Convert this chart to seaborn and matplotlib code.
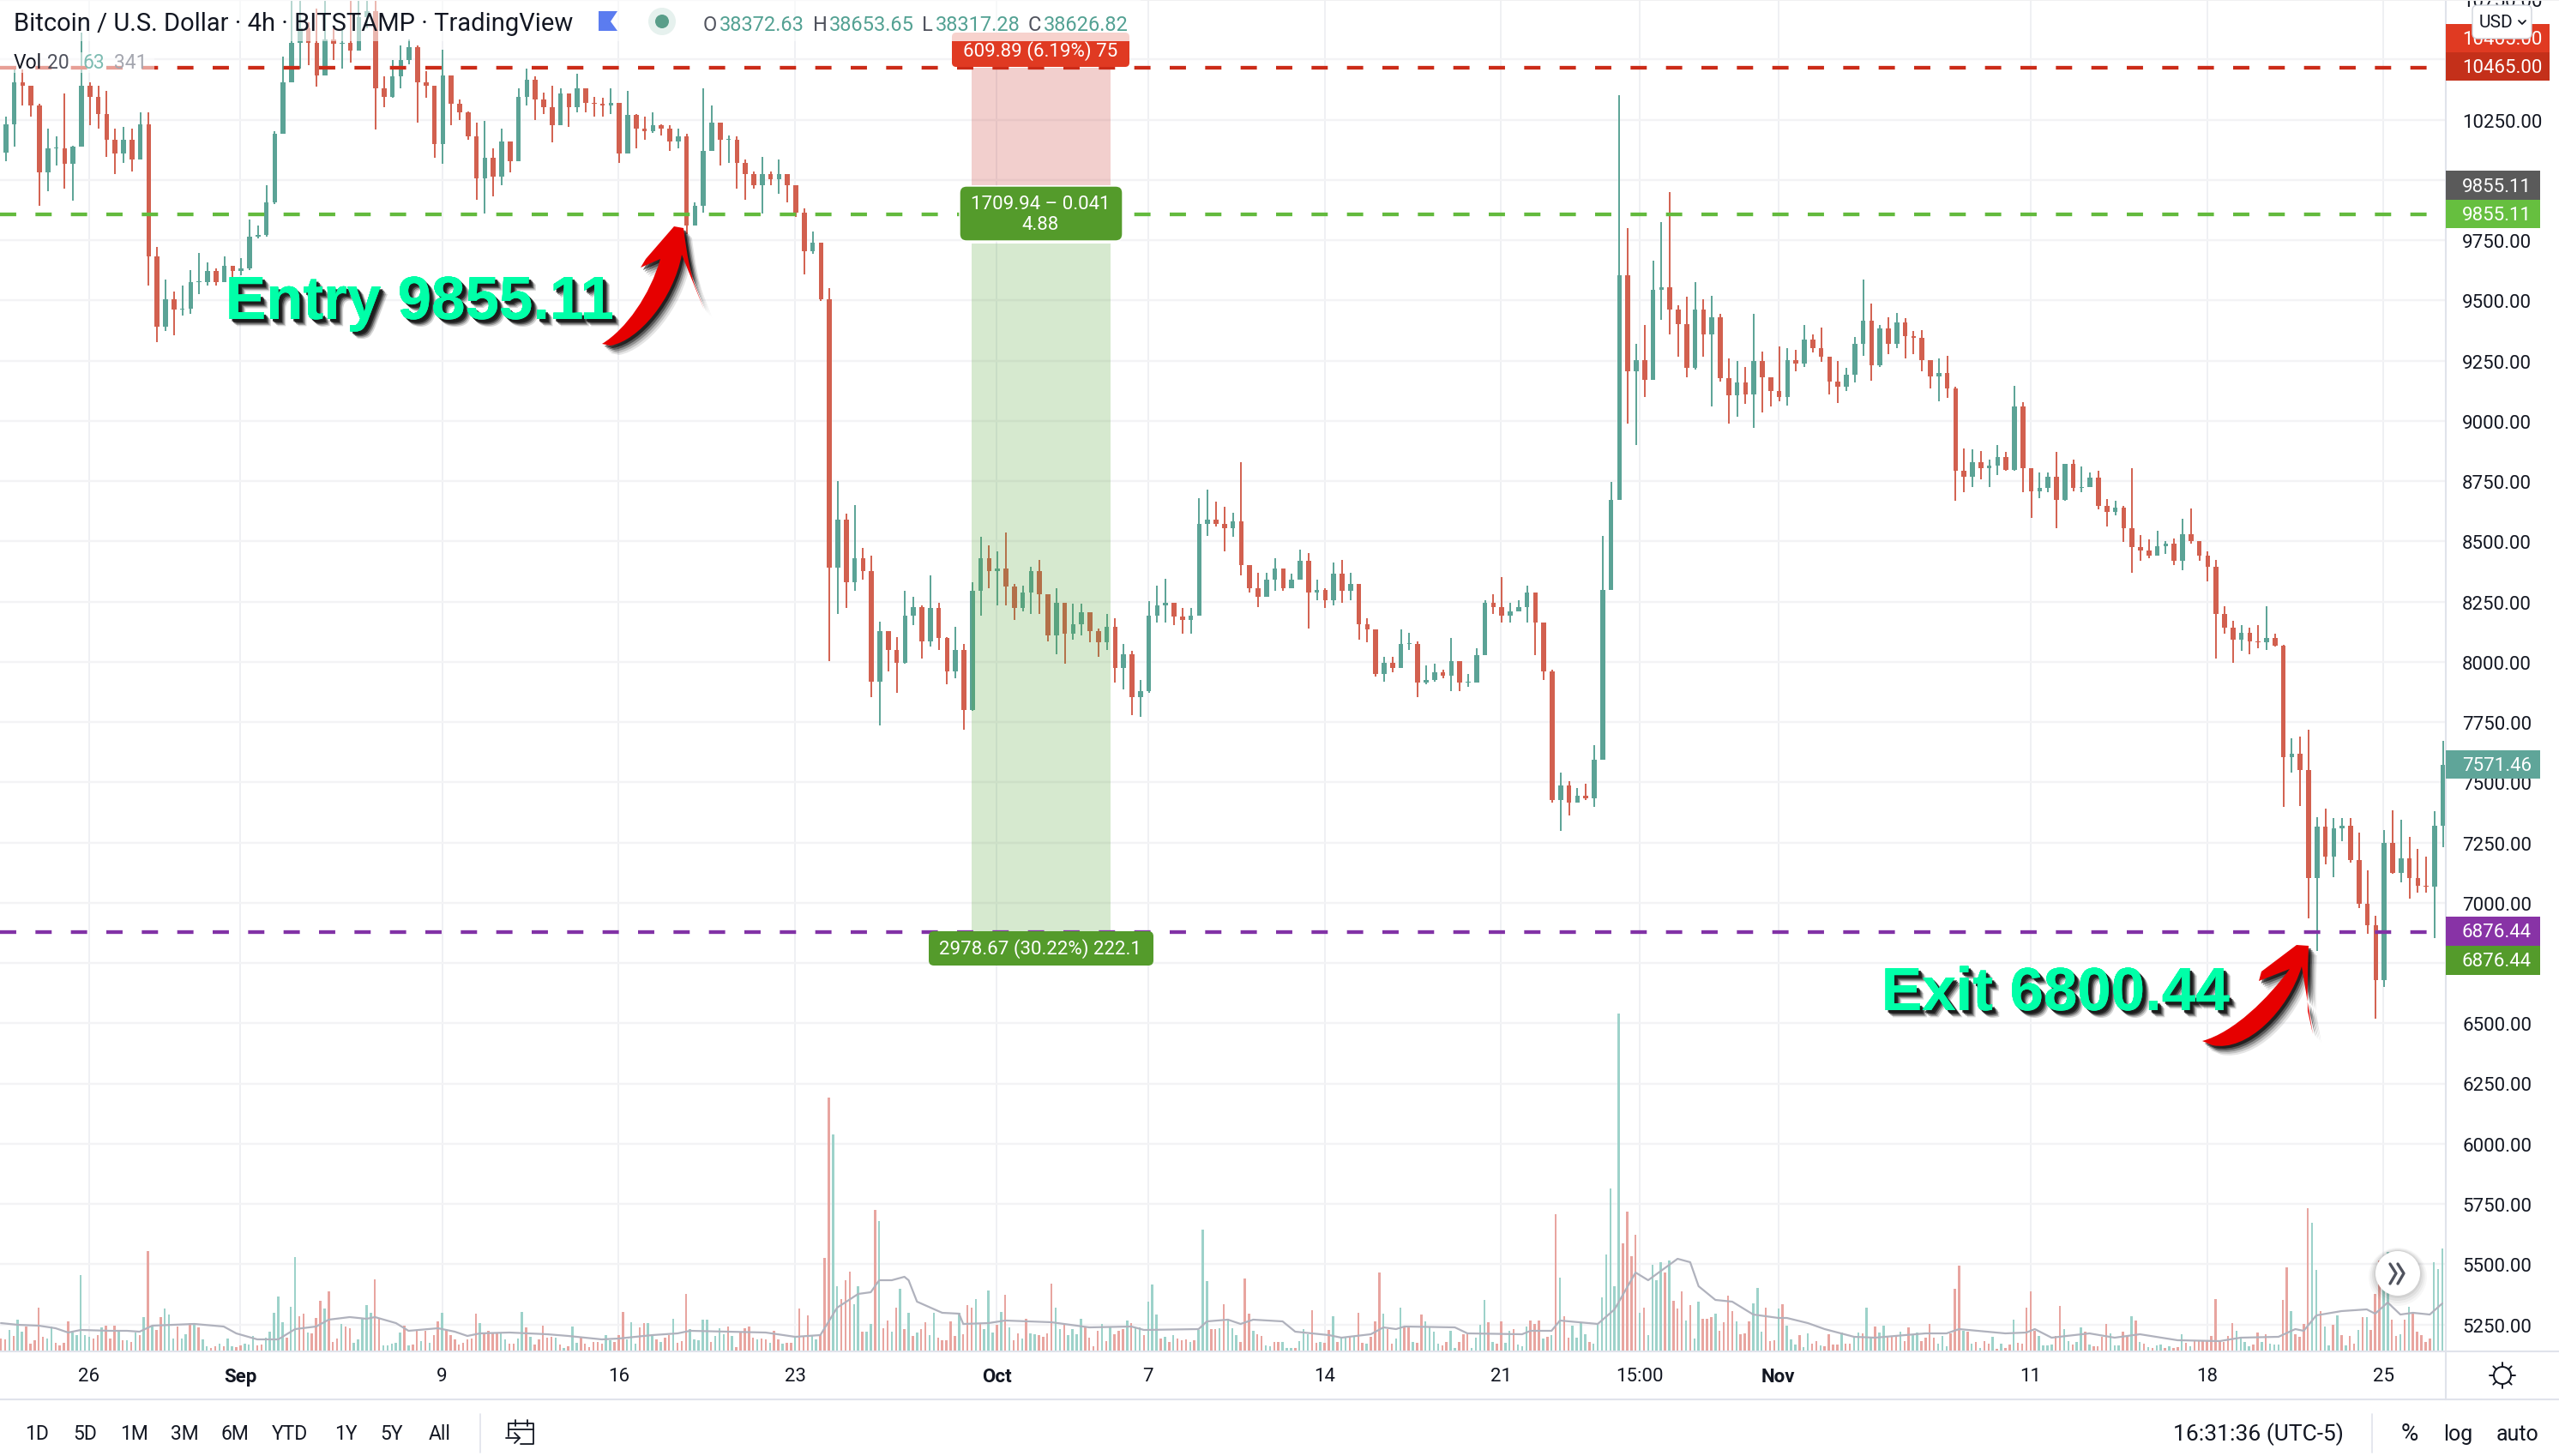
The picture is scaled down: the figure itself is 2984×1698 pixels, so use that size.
import numpy as np
import pandas as pd
import seaborn as sns
import matplotlib
matplotlib.use("Agg")
import matplotlib.pyplot as plt
import matplotlib.patheffects as pe
from matplotlib.patches import FancyBboxPatch, Rectangle, Circle, Polygon, PathPatch
from matplotlib.path import Path

# ---- candles, one entry every 8 hours, prices in USD ----
first_open = 10060
close = [10113,10232,10404,10392,10309,10030,10131,10131,10066,10137,10392,10345,10274,10167,10108,10167,10084,10232,9681,9390,
 9503,9461,9467,9574,9574,9621,9574,9645,9621,9633,9764,9770,9906,10191,10404,10570,10629,10570,10434,10582,
 10564,10570,10535,10677,10700,10380,10345,10428,10499,10552,10404,10392,10149,10434,10315,10280,10179,10007,10090,10013,
 10161,10078,10345,10416,10333,10303,10226,10357,10303,10380,10321,10315,10307,10321,10108,10268,10214,10202,10226,10214,
 10161,10179,9811,9894,10119,10238,10167,10167,10072,10025,9977,10025,10001,10025,9977,9864,9704,9740,9503,8389,
 8589,8329,8429,8376,7919,8127,8050,7996,8192,8228,8085,8222,8097,7961,8050,7801,8293,8429,8376,8388,
 8311,8222,8287,8376,8281,8109,8246,8115,8157,8204,8127,8080,8145,7973,8032,7854,7878,8192,8234,8246,
 8186,8174,8192,8572,8589,8572,8554,8584,8400,8305,8269,8340,8388,8305,8340,8418,8287,8299,8257,8364,
 8293,8323,8157,8133,7949,7996,7973,8074,8074,7913,7925,7955,7943,8002,7913,7913,8026,8246,8228,8192,
 8210,8228,8287,8163,7961,7427,7486,7415,7445,7433,7593,8299,8670,9603,9206,9253,9170,9544,9556,9461,
 9402,9218,9461,9360,9431,9176,9106,9159,9110,9247,9180,9123,9099,9253,9236,9336,9303,9265,9164,9140,
 9192,9320,9414,9230,9384,9319,9408,9351,9345,9253,9185,9200,9135,8791,8768,8829,8803,8813,8851,8797,
 9058,8803,8708,8720,8768,8673,8821,8720,8726,8765,8647,8623,8639,8554,8477,8462,8442,8481,8489,8420,
 8531,8501,8442,8394,8198,8141,8092,8121,8086,8080,8098,8068,7605,7617,7551,7101,7315,7190,7308,7320,
 7178,6994,6905,6680,7249,7125,7185,7101,7071,7065,7320,7571]
high = [10262,10262,10463,10457,10380,10315,10214,10179,10357,10143,10612,10404,10392,10368,10214,10220,10214,10280,10280,9722,
 9586,9538,9562,9627,9698,9657,9633,9681,9645,9675,9835,9811,9977,10202,10511,10760,10760,10653,10712,10760,
 10629,10629,10760,10780,10790,10770,10428,10499,10558,10582,10558,10451,10392,10540,10357,10333,10285,10238,10244,10131,
 10214,10143,10380,10463,10428,10363,10392,10380,10345,10440,10368,10345,10339,10380,10280,10368,10274,10262,10280,10232,
 10226,10214,10191,9906,10380,10309,10238,10185,10179,10084,10036,10096,10036,10084,10013,9953,9882,9787,9740,9550,
 8750,8613,8649,8471,8441,8168,8127,8103,8293,8269,8234,8358,8246,8103,8145,8074,8329,8518,8483,8459,
 8536,8323,8317,8394,8423,8257,8305,8246,8240,8240,8163,8139,8198,8180,8074,8044,7925,8251,8317,8346,
 8228,8222,8222,8678,8714,8666,8643,8619,8827,8394,8370,8370,8429,8388,8364,8465,8450,8340,8305,8411,
 8423,8370,8323,8180,8133,8020,8020,8133,8121,8085,7985,7991,7967,8097,7985,7949,8056,8257,8281,8352,
 8246,8257,8317,8234,8050,7967,7540,7504,7475,7492,7653,8524,8745,10353,9799,9319,9396,9663,9823,9951,
 9479,9514,9574,9503,9520,9443,9259,9247,9224,9443,9289,9164,9307,9301,9295,9396,9360,9386,9265,9247,
 9218,9348,9586,9485,9396,9431,9449,9425,9374,9378,9236,9259,9270,9141,8886,8880,8874,8839,8901,8872,
 9145,9076,8797,8786,8786,8872,8821,8839,8809,8786,8791,8675,8667,8647,8803,8525,8507,8542,8501,8513,
 8592,8635,8501,8459,8424,8232,8169,8151,8141,8151,8232,8118,8070,7682,7688,7717,7356,7389,7350,7352,
 7350,7290,7136,6947,7302,7382,7346,7273,7225,7190,7380,7670]
low = [10054,10078,10137,10309,10262,9894,9953,10060,9965,9912,10137,10226,10214,10096,10025,10072,10036,10119,9562,9325,
 9372,9354,9437,9443,9526,9562,9562,9598,9598,9604,9627,9758,9764,9900,10285,10404,10463,10475,10386,10463,
 10499,10463,10487,10552,10629,10208,10303,10339,10380,10481,10238,10339,10090,10066,10226,10250,10167,9918,9859,9930,
 9977,10030,10167,10309,10250,10274,10155,10238,10220,10280,10280,10262,10262,10274,10072,10119,10131,10167,10196,10185,
 10119,10131,9776,9811,9864,10155,10060,10072,9965,9918,9965,9859,9977,9942,9906,9847,9609,9692,9497,8001,
 8198,8222,8293,8340,7854,7736,7961,7872,7991,8151,8014,8062,8050,7908,7931,7718,7795,8192,8305,8234,
 8234,8174,8210,8198,8198,8085,8032,7991,8091,8109,8080,8020,8050,7913,7884,7777,7771,7872,8163,8163,
 8151,8115,8115,8192,8524,8560,8459,8518,8358,8287,8228,8293,8293,8293,8305,8364,8139,8257,8222,8234,
 8246,8257,8091,8080,7937,7919,7955,8020,8050,7854,7908,7919,7931,7878,7878,7896,7943,8032,8198,8163,
 8163,8210,8163,8026,7925,7415,7297,7362,7427,7427,7397,7593,8299,8670,8990,8900,9099,9218,9420,9360,
 9265,9182,9212,9265,9058,9164,8987,9016,9070,8969,9034,9058,9081,9064,9206,9224,9283,9244,9111,9073,
 9123,9159,9271,9167,9224,9277,9303,9259,9277,9206,9135,9081,9094,8667,8703,8726,8756,8726,8774,8791,
 8791,8703,8596,8679,8703,8554,8667,8708,8703,8726,8631,8560,8608,8497,8370,8420,8430,8448,8448,8402,
 8379,8489,8418,8335,8015,8115,7997,8044,8032,8056,8050,8062,7397,7540,7403,6935,6800,7160,7107,7255,
 7166,6976,6870,6520,6650,7119,7083,7018,7042,7042,6852,7231]

# ---- volume, one entry every 4 hours; positive = up bar, negative = down bar ----
volume = [-15,-14,25,-18,37,23,-29,-9,-13,-51,-17,15,29,-10,-7,-10,-35,22,19,89,19,17,-15,-19,28,-30,-15,-30,24,-13,13,-11,22,-19,40,-117,
 29,-25,-40,50,43,15,-29,15,20,-33,33,-28,14,6,-4,-6,9,-6,15,6,-5,-7,9,8,18,-7,-8,16,23,45,64,34,-16,52,110,-41,-44,22,-21,-39,-59,50,-70,
 -11,-15,32,-29,-27,10,14,39,54,45,-84,-38,7,7,9,10,22,-30,7,-8,-25,12,-24,10,-19,-35,45,-25,-19,-14,-8,-10,-14,-15,-44,33,-21,-24,-21,-21,
 21,14,-9,-9,15,46,-28,17,-8,-14,-30,-16,-17,16,-8,4,-6,29,10,-16,-9,-5,-11,-11,-9,19,13,-11,-19,-46,14,34,9,-28,-33,33,19,-14,11,-16,-19,
 38,-10,-12,-67,26,14,13,37,37,-11,18,27,20,-29,18,-5,-23,-27,-29,-16,14,-15,-14,10,-24,-14,9,-10,-10,17,-50,-17,-42,19,14,-19,-109,-296,253,
 76,-61,-83,-93,55,
 76,-23,23,32,-165,152,-27,-36,23,-51,73,-26,45,-18,22,-26,-34,19,45,-16,-13,-13,-35,-18,45,-20,-54,-51,61,-33,26,71,22,-31,46,-66,28,-13,-21,15,
 -38,21,20,-19,-17,-21,-79,51,26,-31,19,26,20,38,-29,-16,-6,-24,32,-12,28,-20,-24,-26,36,-33,28,28,-19,58,78,43,-15,17,-11,19,-15,-13,-14,11,-13,25,
 142,82,-26,-26,27,-55,38,27,19,-11,-85,-44,24,-20,-18,7,6,-11,-11,11,4,4,-4,12,26,20,-48,-10,11,-10,-25,41,-11,15,16,-17,17,-45,-10,9,-17,-35,-92,
 44,-26,-9,15,51,-28,-28,11,-10,-43,35,29,23,9,-7,-11,24,4,-11,-20,-21,4,16,31,60,-34,11,-9,-35,10,24,-26,8,6,29,-36,-32,-36,15,-17,19,-160,86,-41,
 -16,30,16,34,20,-11,9,33,63,113,190,76,394,-126,-163,-111,-136,45,-51,19,101,83,104,-92,106,-59,-50,-70,36,-54,15,58,-38,-38,-40,
 44,-24,-34,-65,-47,35,-20,-21,-35,56,74,23,-51,-12,-13,50,-55,30,14,8,-19,5,21,-9,-12,7,-6,-20,-8,-8,22,-9,-9,16,22,-21,51,16,-29,22,30,-17,-17,-18,
 23,-12,-28,19,22,-12,-16,-32,-16,9,18,6,-21,-73,-100,24,-23,9,-11,4,-12,-9,17,-3,9,-4,-8,37,-10,-9,-51,-70,-24,18,7,7,8,-18,-53,26,12,-8,11,28,-23,
 8,-6,-6,-17,-32,21,7,7,-23,-19,41,-36,11,-9,5,-4,7,8,-4,6,-4,-5,20,-10,6,-12,-12,-12,-12,-18,-61,-13,-11,-18,-33,24,17,11,6,-8,-22,11,-20,9,8,8,-60,
 -98,47,-20,-17,-32,-167,150,95,-47,29,7,-31,42,-19,7,-18,-9,25,-40,40,-25,-67,-106,110,116,-37,-18,20,-37,52,-44,-23,-19,-11,-15,104,96,120]

# ---- 20-period moving average of volume: bar number and value ----
ma_bar = [0,4,9,13,16,19,26,30,33,36,46,53,56,61,66,70,75,78,83,87,89,94,97,104,108,111,114,121,130,135,143,147,155,161,164,173,182,189,195,199,204,
 207,209,212,215,216,218,224,228,229,235,239,250,259,269,272,285,287,292,295,298,305,308,316,319,326,329,332,334,346,349,362,364,369,371,380,384,389,392,399,402,404,408,
 412,417,423,425,430,434,441,446,458,463,466,477,482,484,488,497,503,509,518,528,533,542,546,548,551,557,563,565,568,571,574,578,581]
ma_value = [33,31,30,27,22,25,24,24,23,30,32,29,21,14,14,26,29,37,40,38,40,33,24,27,23,18,21,22,20,18,14,15,19,21,24,23,22,17,19,51,67,
 69,83,83,87,83,58,45,44,32,33,36,34,28,29,25,26,35,37,32,37,35,23,19,16,20,28,26,29,28,21,20,24,24,36,32,49,92,83,108,104,76,60,
 58,43,39,39,33,26,17,16,21,21,26,21,22,26,16,21,16,20,13,12,16,17,26,24,42,47,49,44,57,43,45,43,56]

# ---- trade levels and axis labels ----
stop_price = 10465.00
entry_price = 9855.11
exit_price = 6876.44
last_price = 7571.46
trade_days = [35.0, 40.5]
price_ticks = [10750,10500,10250,10000,9750,9500,9250,9000,8750,8500,8250,8000,7750,7500,7250,7000,6750,6500,6250,6000,5750,5500,5250]
hidden_price_labels = [10500,10000,6750]   # covered by the level tags in the reference
time_tick_days = [0,6,14,21,28,36,42,49,56,61.5,67,77,84,91]
time_tick_labels = ['26','Sep','9','16','23','Oct','7','14','21','15:00','Nov','11','18','25']
bold_ticks = ['Sep','Oct','Nov']
ranges = ['1D','5D','1M','3M','6M','YTD','1Y','5Y','All']
range_x = [43,99,157,215,274,338,403,457,513]

UP, DOWN = '#5ba396', '#d2604f'
VUP, VDOWN = '#9dd2ca', '#e8a5a0'
INK = '#131722'

sns.set_theme(style='white')
plt.rcParams['font.family'] = ['Roboto', 'DejaVu Sans']

W, H = 2984, 1699
fig = plt.figure(figsize=(W/100, H/100), dpi=100, facecolor='white')
PR, PB = 2852, 1577
ax = fig.add_axes([0, (H-PB)/H, PR/W, PB/H])
ax.set_facecolor('white')

XLIM = (-104/29.4, (PR-104)/29.4)
opens = [first_open] + close[:-1]
cdf = pd.DataFrame({'day': -3.64 + np.arange(len(close))/3, 'open': opens, 'high': high, 'low': low, 'close': close})
up = cdf['close'] >= cdf['open']
ccol = np.where(up, UP, DOWN)
ax.vlines(cdf['day'], cdf['low'], cdf['high'], colors=ccol, lw=1.4, zorder=3)
ax.bar(cdf['day'], (cdf['close']-cdf['open']).abs().clip(lower=4), bottom=cdf[['open','close']].min(axis=1),
       width=0.19, color=ccol, linewidth=0, zorder=3)

# trade zones
ax.fill_between(trade_days, 9976, stop_price, color=(201/255,55/255,47/255), alpha=0.24, lw=0, zorder=5)
ax.fill_between(trade_days, exit_price, 9737, color=(84/255,163/255,55/255), alpha=0.24, lw=0, zorder=5)

for p, c in [(stop_price,'#cb2b18'), (entry_price,'#63ba3d'), (exit_price,'#8232a6')]:
    ax.hlines(p, XLIM[0], XLIM[1], colors=c, lw=3.1, linestyles=[(0,(4.4,5.2))], zorder=6)

ax.set_xlim(*XLIM)
ax.set_ylim(10750-PB/0.281, 10750)
ax.yaxis.tick_right()
ax.set_yticks(price_ticks)
ax.set_yticklabels(['' if t in hidden_price_labels else f'{t:.2f}' for t in price_ticks], fontsize=16, color=INK)
ax.set_xticks(time_tick_days)
ax.set_xticklabels(time_tick_labels, fontsize=16, color=INK)
for t in ax.get_xticklabels():
    if t.get_text() in bold_ticks:
        t.set_fontweight('bold')
ax.tick_params(axis='y', length=0, pad=13.7)
ax.tick_params(axis='x', length=0, pad=13)
ax.grid(True, axis='y', color='#f3f3f5', lw=1.7, zorder=0)
ax.grid(True, axis='x', color='#eceef1', lw=1.2, zorder=0)
ax.set_axisbelow(True)
for s in ax.spines.values():
    s.set_visible(False)

# volume pane, same time scale
vax = fig.add_axes(ax.get_position(), zorder=2)
vax.patch.set_alpha(0)
vdf = pd.DataFrame({'day': -3.5 + np.arange(len(volume))/6, 'vol': np.abs(volume),
                    'dir': ['up' if v > 0 else 'down' for v in volume]})
sns.barplot(data=vdf, x='day', y='vol', hue='dir', palette={'up': VUP, 'down': VDOWN}, hue_order=['up','down'],
            native_scale=True, dodge=False, width=0.5, saturation=1, errorbar=None, legend=False, ax=vax, linewidth=0)
mdf = pd.DataFrame({'day': -3.5 + np.array(ma_bar)/6, 'ma': ma_value})
sns.lineplot(data=mdf, x='day', y='ma', color='#b0b2bd', lw=1.6, estimator=None, sort=False, ax=vax)
vax.set_xlim(*XLIM)
vax.set_ylim(0, PB)
vax.axis('off')

# ---- overlay in pixel space ----
ov = fig.add_axes([0,0,1,1], zorder=5)
ov.set_xlim(0, W); ov.set_ylim(H, 0); ov.axis('off'); ov.patch.set_alpha(0)

def box(x0, y0, x1, y1, c, r=6, z=5, **kw):
    ov.add_patch(FancyBboxPatch((x0+r, y0+r), x1-x0-2*r, y1-y0-2*r, boxstyle=f'round,pad={r},rounding_size={r}',
                                fc=c, lw=kw.pop('lw',0), zorder=z, **kw))
def txt(x, y, s, c=INK, fs=16, ha='center', z=8, **kw):
    return ov.text(x, y, s, color=c, fontsize=fs, ha=ha, va='center', zorder=z, **kw)

# legend veils
ov.add_patch(Rectangle((0,0), 1330, 49, fc='white', alpha=0.55, lw=0, zorder=4))
ov.add_patch(Rectangle((0,62), 180, 24, fc='white', alpha=0.55, lw=0, zorder=4))

# position labels
box(1110, 39, 1317, 79, '#e03a22', r=5, z=3)
ov.add_patch(Rectangle((1110,39), 207, 10, fc='white', alpha=0.5, lw=0, zorder=4))
txt(1213, 60, '609.89 (6.19%) 75', 'white', 16)
box(1119, 218, 1309, 282, '#549b2b', r=8, ec='white', lw=1)
txt(1213, 238, '1709.94 \u2013 0.041', 'white', 16)
txt(1213, 263, '4.88', 'white', 16)
box(1083, 1087, 1345, 1127, '#549b2b', r=6)
txt(1213, 1107, '2978.67 (30.22%) 222.1', 'white', 16)

# price scale tags
for (y0,y1,x1,c,s) in [(29,62,2973,'#e03a22',f'{stop_price:.2f}'),(62,95,2973,'#c4301a',f'{stop_price:.2f}'),
                       (200,234,2962,'#5a5a5a',f'{entry_price:.2f}'),(234,267,2962,'#66bf3f',f'{entry_price:.2f}'),
                       (876,909,2962,'#5fa599',f'{last_price:.2f}'),(1070,1104,2962,'#8833a6',f'{exit_price:.2f}'),
                       (1104,1138,2962,'#549b2b',f'{exit_price:.2f}')]:
    ov.add_patch(Rectangle((2852,y0), x1-2852, y1-y0, fc=c, lw=0, zorder=5))
    txt(2871, (y0+y1)/2+1, s, 'white', 16, ha='left')

# USD button
box(2883, 7, 2952, 46, 'white', r=6, z=9, ec='#d1d4dc', lw=1)
ov.plot([2937,2941,2945],[25,29,25], color=INK, lw=1.3, zorder=10)
txt(2891, 27, 'USD', fs=15, ha='left', z=10)

# frame
ov.plot([2852,2852],[0,1633], color='#e0e3eb', lw=1.5, zorder=3)
ov.plot([0,W],[1577,1577], color='#e0e3eb', lw=1.5, zorder=3)
ov.plot([0,W],[1633,1633], color='#e0e3eb', lw=1.5, zorder=3)
ov.plot([0,W],[1,1], color='#f0f0f2', lw=1.5, zorder=3)

# header legend
txt(16, 28, 'Bitcoin / U.S. Dollar \u00b7 4h \u00b7 BITSTAMP \u00b7 TradingView', fs=21, ha='left')
ov.add_patch(Polygon([(698,14),(720,14),(712,26),(720,37),(698,37)], fc='#5b7cf0', lw=0, zorder=8))
ov.add_patch(Circle((772,26), 16, fc='#e6f1ee', lw=0, zorder=8))
ov.add_patch(Circle((772,26), 8, fc='#5a9e8a', lw=0, zorder=9))
for x, s in [(820,'O'),(948,'H'),(1075,'L'),(1199,'C')]:
    txt(x, 29, s, '#50535e', 17, ha='left')
for x, s in [(839,'38372.63'),(967,'38653.65'),(1091,'38317.28'),(1217,'38626.82')]:
    txt(x, 29, s, '#53a193', 17, ha='left')
txt(16, 73, 'Vol', fs=16.5, ha='left')
txt(55, 73, '20', '#50535e', 16.5, ha='left')
txt(96, 73, '63', '#7dbcb2', 16.5, ha='left')
txt(133, 73, '341', '#a5a7b0', 16.5, ha='left')

# bottom bar
for x, s in zip(range_x, ranges):
    txt(x, 1673, s, fs=16.5)
ov.plot([560,560],[1650,1695], color='#e0e3eb', lw=1.2)
ov.plot([2766,2766],[1650,1695], color='#e0e3eb', lw=1.2)
txt(2534, 1673, '16:31:36 (UTC-5)', fs=19, ha='left')
txt(2810, 1673, '%', fs=20)
txt(2866, 1673, 'log', fs=18)
txt(2935, 1673, 'auto', fs=18)
# calendar icon
ov.plot([593,593],[1661,1676], color=INK, lw=1.3)
ov.plot([593,622,622,607],[1661,1661,1685,1685], color=INK, lw=1.3)
ov.plot([593,622],[1668,1668], color=INK, lw=1.3)
ov.plot([601,601],[1657,1664], color=INK, lw=1.3)
ov.plot([615,615],[1657,1664], color=INK, lw=1.3)
ov.plot([590,606],[1678,1678], color=INK, lw=1.3)
ov.plot([600,606,600],[1672,1678,1684], color=INK, lw=1.3)
# gear icon
ov.add_patch(Circle((2918,1605), 10, fc='none', ec=INK, lw=1.4, zorder=8))
for a in np.arange(0, 2*np.pi, np.pi/4):
    ov.plot([2918+10*np.cos(a), 2918+15*np.cos(a)], [1605+10*np.sin(a), 1605+15*np.sin(a)], color=INK, lw=1.4, zorder=8)
# scroll button
for dx, al in zip(range(8,0,-2), [.03,.04,.05,.06]):
    ov.add_patch(Circle((2796,1486+dx/2), 26+dx, fc='black', alpha=al, lw=0, zorder=6))
ov.add_patch(Circle((2796,1486), 26, fc='white', lw=0, zorder=7))
for dx in (0, 9):
    ov.plot([2787+dx,2794+dx,2787+dx],[1475,1486,1498], color='#50535e', lw=2.4, zorder=8)

# big annotations
def shadow_text(x, y, s):
    t = txt(x, y, s, '#00ffa8', 51, ha='left', z=12, family='Liberation Sans', fontweight='bold')
    t.set_path_effects([pe.withSimplePatchShadow(offset=(o, -o), shadow_rgbFace='k', alpha=a)
                        for o, a in [(6,.18),(5,.3),(4,.5),(3,.8),(2,.9)]] + [pe.Normal()])
shadow_text(263, 355, 'Entry 9855.11')
shadow_text(2194, 1161, 'Exit 6800.44')

def arrow(tail, p1, p2, inner, barb, barb2, tip, tip2, r1, r2, end, notch, p3, p4, p5):
    v = [tail,p1,p2,inner, barb, barb2, tip, tip2, r1, r2, end, notch, p3, p4, p5, tail]
    c = [Path.MOVETO,Path.CURVE4,Path.CURVE4,Path.CURVE4, Path.LINETO, Path.LINETO, Path.LINETO, Path.LINETO,
         Path.CURVE3,Path.CURVE3,Path.LINETO, Path.LINETO, Path.CURVE4,Path.CURVE4,Path.CURVE4,Path.LINETO]
    for o, a in [(11,.1),(9,.15),(7,.25),(5,.4),(3,.6)]:
        sv = [(x+o*0.9, y+o) for x, y in v]
        ov.add_patch(PathPatch(Path(sv, c), fc='black', alpha=a, lw=0, zorder=10))
    ov.add_patch(PathPatch(Path(v, c), fc='#e60000', lw=0, zorder=11))

arrow((702,402),(730,385),(758,345),(770,303),(747,313),(753,303),(786,265),(797,267),(803,315),(810,333),(821,362),(795,298),
      (785,350),(745,398),(712,404))
arrow((2568,1215),(2605,1205),(2645,1165),(2670,1131),(2634,1145),(2637,1134),(2678,1103),(2692,1104),(2690,1150),(2691,1180),(2697,1207),(2684,1128),
      (2668,1180),(2620,1228),(2580,1220))

fig.savefig('out.png', dpi=100, facecolor='white')
